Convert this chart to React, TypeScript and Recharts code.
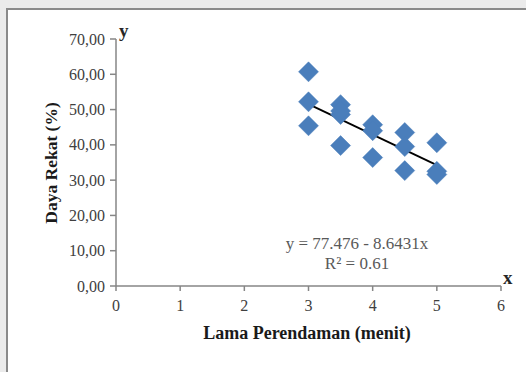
import { ReferenceLine, Scatter, ScatterChart, XAxis, YAxis } from 'recharts';

const lamaPerendaman = [3, 3, 3, 3.5, 3.5, 3.5, 3.5, 4, 4, 4, 4.5, 4.5, 4.5, 5, 5, 5];
const dayaRekat = [60.7, 52.2, 45.4, 51.4, 48.6, 49.6, 39.8, 45.7, 44.0, 36.4, 43.5, 39.5, 32.7, 40.6, 32.5, 31.6];
const xTicks = [0, 1, 2, 3, 4, 5, 6];
const yTicks = [0, 10, 20, 30, 40, 50, 60, 70];
const intercept = 77.476;
const slope = -8.6431;
const trendRange = [3, 5];

const points = lamaPerendaman.map((x, i) => ({ x, y: dayaRekat[i] }));

const serif = '"Liberation Serif", "DejaVu Serif", serif';

const Diamond = (props: any) => {
  const { cx, cy } = props;
  const r = 10;
  return (
    <polygon
      points={`${cx},${cy - r} ${cx + r},${cy} ${cx},${cy + r} ${cx - r},${cy}`}
      fill="#4a7ebb"
      stroke="#4a7ebb"
      strokeWidth={0.5}
    />
  );
};

const renderXTick = (props: any) => {
  const { x, y, payload } = props;
  return (
    <text x={x} y={y + 18} textAnchor="middle" style={{ fontFamily: serif, fontSize: 16, fill: '#404040' }}>
      {payload.value}
    </text>
  );
};

const renderYTick = (props: any) => {
  const { x, y, payload } = props;
  return (
    <text x={x - 3} y={y + 5.5} textAnchor="end" style={{ fontFamily: serif, fontSize: 16, fill: '#404040' }}>
      {Number(payload.value).toFixed(2).replace('.', ',')}
    </text>
  );
};

export default function App() {
  return (
    <div style={{ position: 'fixed', left: 0, top: 0, width: 526, height: 372, background: '#ebebeb', overflow: 'hidden' }}>
      <div
        style={{
          position: 'absolute',
          left: 6,
          top: 8,
          width: 540,
          height: 380,
          background: '#fff',
          borderLeft: '2px solid #8a8a8a',
          borderTop: '2px solid #8a8a8a',
        }}
      />
      <div style={{ position: 'absolute', left: 0, top: 0 }}>
        <ScatterChart width={526} height={372} margin={{ top: 39, right: 25, bottom: 56, left: 0 }}>
          <XAxis
            type="number"
            dataKey="x"
            domain={[0, 6]}
            ticks={xTicks}
            height={30}
            tick={renderXTick}
            tickSize={5}
            tickMargin={2}
            stroke="#868686"
            strokeWidth={1.5}
          />
          <YAxis
            type="number"
            dataKey="y"
            domain={[0, 70]}
            ticks={yTicks}
            width={116}
            tick={renderYTick}
            tickSize={6}
            tickMargin={2}
            stroke="#868686"
            strokeWidth={1.5}
          />
          <Scatter data={points} shape={<Diamond />} isAnimationActive={false} />
          <ReferenceLine
            segment={[
              { x: trendRange[0], y: intercept + slope * trendRange[0] },
              { x: trendRange[1], y: intercept + slope * trendRange[1] },
            ]}
            stroke="#000"
            strokeWidth={1.8}
          />
        </ScatterChart>
      </div>
      <div style={{ position: 'absolute', left: 0, top: 0, width: 526, height: 372, pointerEvents: 'none' }}>
        <svg width={526} height={372}>
          <text x={119} y={37} fontFamily={serif} fontWeight="bold" fontSize={19} fill="#262626">y</text>
          <text x={503} y={284} fontFamily={serif} fontWeight="bold" fontSize={19} fill="#262626">x</text>
          <text x={357} y={249} textAnchor="middle" fontFamily={serif} fontSize={17} fill="#595959">y = 77.476 - 8.6431x</text>
          <text x={357} y={269} textAnchor="middle" fontFamily={serif} fontSize={17} fill="#595959">R² = 0.61</text>
          <text x={307} y={339} textAnchor="middle" fontFamily={serif} fontWeight="bold" fontSize={18} fill="#1a1a1a">Lama Perendaman (menit)</text>
          <text
            x={0}
            y={0}
            transform="translate(57,163) rotate(-90)"
            textAnchor="middle"
            fontFamily={serif}
            fontWeight="bold"
            fontSize={17.5}
            fill="#1a1a1a"
          >
            Daya Rekat (%)
          </text>
        </svg>
      </div>
    </div>
  );
}
